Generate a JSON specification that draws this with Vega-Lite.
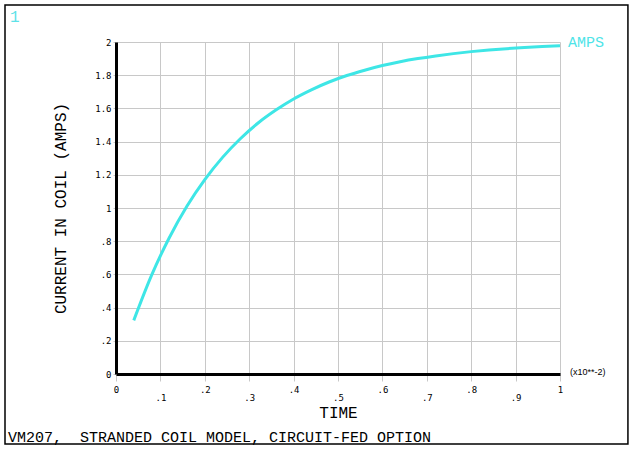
{
  "$schema": "https://vega.github.io/schema/vega-lite/v6.json",
  "width": 444,
  "height": 332,
  "autosize": {"type": "none"},
  "padding": {"left": 116, "top": 42, "right": 74, "bottom": 78},
  "background": "white",
  "config": {
    "view": {"stroke": null},
    "axis": {
      "grid": true,
      "gridColor": "#c8c8c8",
      "gridWidth": 1,
      "domainColor": "black",
      "domainWidth": 3,
      "ticks": true,
      "tickColor": "#c8c8c8",
      "labelFont": "DejaVu Sans Mono",
      "labelFontSize": 9,
      "labelColor": "black",
      "labelFlush": false,
      "labelOverlap": false,
      "labelBound": false,
      "titleFont": "Liberation Mono",
      "titleFontSize": 16,
      "titleFontWeight": "normal",
      "titleColor": "black"
    },
    "axisX": {
      "tickCount": 10,
      "tickSize": 7,
      "labelPadding": {"condition": {"test": "round(datum.value * 10) % 2 == 1", "value": 12}, "value": 4},
      "labelExpr": "datum.value == 0 ? '0' : (datum.value == 1 ? '1' : replace(format(datum.value, '.1f'), '0.', '.'))",
      "titleY": 38,
      "titleBaseline": "middle"
    },
    "axisY": {
      "tickCount": 10,
      "tickSize": 3,
      "labelPadding": 2,
      "labelExpr": "(datum.value > 0 && datum.value < 1) ? replace(format(datum.value, '.1f'), '0.', '.') : format(datum.value, '~g')",
      "titleX": -56,
      "titleY": 166,
      "titleAngle": 270,
      "titleAlign": "center",
      "titleBaseline": "middle"
    }
  },
  "datasets": {
    "coil": [
      {"time": 0.04, "current": 0.323},
      {"time": 0.08, "current": 0.594},
      {"time": 0.12, "current": 0.821},
      {"time": 0.16, "current": 1.012},
      {"time": 0.20, "current": 1.171},
      {"time": 0.24, "current": 1.305},
      {"time": 0.28, "current": 1.417},
      {"time": 0.32, "current": 1.512},
      {"time": 0.36, "current": 1.590},
      {"time": 0.40, "current": 1.657},
      {"time": 0.44, "current": 1.712},
      {"time": 0.48, "current": 1.759},
      {"time": 0.52, "current": 1.798},
      {"time": 0.56, "current": 1.830},
      {"time": 0.60, "current": 1.858},
      {"time": 0.64, "current": 1.881},
      {"time": 0.68, "current": 1.900},
      {"time": 0.72, "current": 1.916},
      {"time": 0.76, "current": 1.930},
      {"time": 0.80, "current": 1.942},
      {"time": 0.84, "current": 1.952},
      {"time": 0.88, "current": 1.960},
      {"time": 0.92, "current": 1.967},
      {"time": 0.96, "current": 1.973},
      {"time": 1.00, "current": 1.978}
    ]
  },
  "layer": [
    {
      "data": {"name": "coil"},
      "mark": {"type": "line", "color": "#3ee6e6", "strokeWidth": 3, "interpolate": "monotone"},
      "encoding": {
        "x": {
          "field": "time",
          "type": "quantitative",
          "scale": {"domain": [0, 1], "nice": false},
          "axis": {"title": "TIME"}
        },
        "y": {
          "field": "current",
          "type": "quantitative",
          "scale": {"domain": [0, 2], "nice": false},
          "axis": {"title": "CURRENT IN COIL (AMPS)"}
        }
      }
    },
    {
      "data": {"values": [{"frame": "border"}]},
      "mark": {"type": "rect", "fillOpacity": 0, "stroke": "black", "strokeWidth": 1.5},
      "encoding": {
        "x": {"datum": -0.25, "type": "quantitative", "scale": {"domain": [0, 1], "nice": false}},
        "x2": {"datum": 1.153},
        "y": {"datum": 2.223, "type": "quantitative", "scale": {"domain": [0, 2], "nice": false}},
        "y2": {"datum": -0.4217}
      }
    },
    {
      "data": {"values": [{"label": "1"}]},
      "mark": {"type": "text", "align": "left", "baseline": "alphabetic", "font": "Liberation Mono", "fontSize": 16, "color": "#5ee2e8"},
      "encoding": {
        "text": {"field": "label"},
        "x": {"datum": -0.2387, "type": "quantitative", "scale": {"domain": [0, 1], "nice": false}},
        "y": {"datum": 2.12, "type": "quantitative", "scale": {"domain": [0, 2], "nice": false}}
      }
    },
    {
      "data": {"values": [{"label": "AMPS"}]},
      "mark": {"type": "text", "align": "left", "baseline": "middle", "font": "Liberation Mono", "fontSize": 15, "color": "#4ee4e8"},
      "encoding": {
        "text": {"field": "label"},
        "x": {"datum": 1.018, "type": "quantitative", "scale": {"domain": [0, 1], "nice": false}},
        "y": {"datum": 2.0, "type": "quantitative", "scale": {"domain": [0, 2], "nice": false}}
      }
    },
    {
      "data": {"values": [{"label": "(x10**-2)"}]},
      "mark": {"type": "text", "align": "left", "baseline": "middle", "font": "Liberation Sans", "fontSize": 9, "color": "black"},
      "encoding": {
        "text": {"field": "label"},
        "x": {"datum": 1.0225, "type": "quantitative", "scale": {"domain": [0, 1], "nice": false}},
        "y": {"datum": 0.015, "type": "quantitative", "scale": {"domain": [0, 2], "nice": false}}
      }
    },
    {
      "data": {"values": [{"label": "VM207,\u00a0 STRANDED COIL MODEL, CIRCUIT-FED OPTION"}]},
      "mark": {"type": "text", "align": "left", "baseline": "middle", "font": "Liberation Mono", "fontSize": 15, "color": "black"},
      "encoding": {
        "text": {"field": "label"},
        "x": {"datum": -0.2432, "type": "quantitative", "scale": {"domain": [0, 1], "nice": false}},
        "y": {"datum": -0.3795, "type": "quantitative", "scale": {"domain": [0, 2], "nice": false}}
      }
    }
  ]
}
